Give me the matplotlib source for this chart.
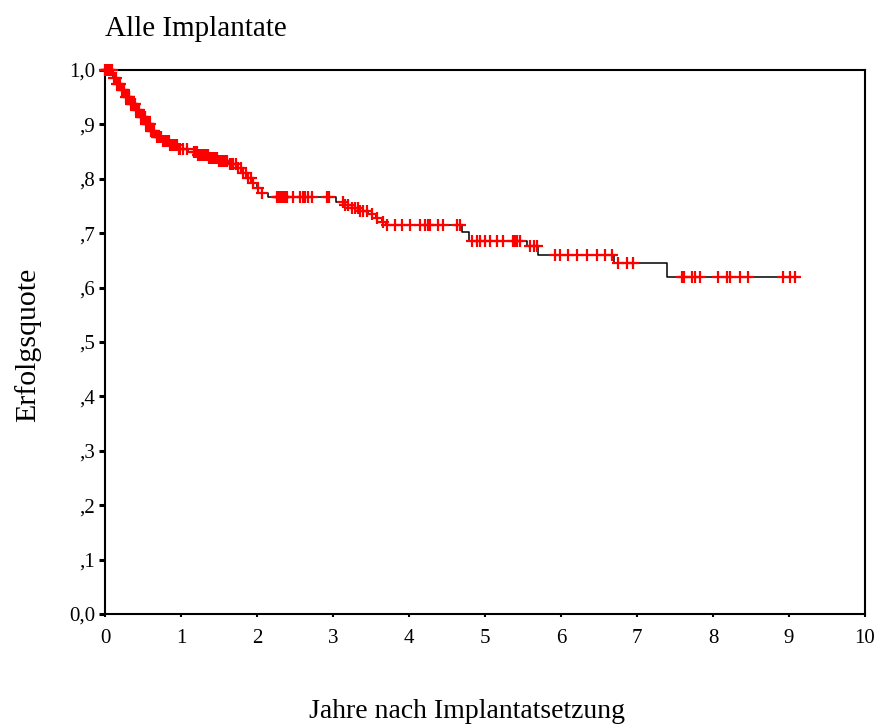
import matplotlib
matplotlib.use("Agg")
import matplotlib.pyplot as plt
import numpy as np

# Kaplan-Meier estimate: times (years) at which the survival level drops, and the level after each drop
event_years = [0.105, 0.158, 0.211, 0.263, 0.329, 0.395, 0.461, 0.526, 0.592, 0.671,
               0.75, 0.855, 0.961, 1.092, 1.224, 1.355, 1.487, 1.618, 1.724, 1.803,
               1.868, 1.934, 2.0, 2.066, 2.145, 3.04, 3.16, 3.25, 3.355, 3.46,
               3.565, 3.645, 3.70, 4.70, 4.79, 5.55, 5.70, 6.70, 7.39]
survival = [0.985, 0.974, 0.963, 0.950, 0.9375, 0.926, 0.914, 0.901, 0.888, 0.877,
            0.869, 0.862, 0.855, 0.849, 0.844, 0.838, 0.833, 0.827, 0.820, 0.811,
            0.801, 0.792, 0.783, 0.774, 0.767, 0.757, 0.752, 0.746, 0.741, 0.735,
            0.728, 0.721, 0.715, 0.702, 0.686, 0.676, 0.660, 0.645, 0.620]
last_followup = 9.08

# censored observations (years)
censored_years = [0.00, 0.01, 0.02, 0.03, 0.05, 0.07, 0.09, 0.12, 0.14, 0.16, 0.18, 0.20,
                  0.22, 0.24, 0.25, 0.27, 0.29, 0.31, 0.32, 0.34, 0.36, 0.37, 0.39, 0.41,
                  0.43, 0.45, 0.47, 0.49, 0.50, 0.52, 0.54, 0.56, 0.57, 0.59, 0.61, 0.63,
                  0.65, 0.68, 0.70, 0.71, 0.73, 0.74, 0.76, 0.78, 0.80, 0.82, 0.84, 0.86,
                  0.88, 0.90, 0.92, 0.95, 0.97, 0.99, 1.03, 1.08,
                  1.17, 1.19, 1.21, 1.23, 1.24, 1.26, 1.29, 1.31, 1.33, 1.35, 1.37, 1.39,
                  1.42, 1.45, 1.47, 1.50, 1.52, 1.53, 1.55, 1.57, 1.58, 1.61, 1.64, 1.66,
                  1.68, 1.72, 1.75, 1.79, 1.82, 1.85, 1.88, 1.92, 1.95, 2.01, 2.07,
                  2.26, 2.27, 2.29, 2.30, 2.32, 2.34, 2.36, 2.37, 2.39, 2.47, 2.57, 2.61,
                  2.63, 2.67, 2.72, 2.92, 2.95,
                  3.13, 3.16, 3.20, 3.25, 3.29, 3.33, 3.36, 3.39, 3.45, 3.51, 3.58, 3.66,
                  3.71, 3.82, 3.91, 4.01, 4.14, 4.21, 4.25, 4.28, 4.38, 4.45, 4.63, 4.67,
                  4.83, 4.89, 4.93, 5.00, 5.07, 5.16, 5.24, 5.37, 5.39, 5.42, 5.46,
                  5.59, 5.64, 5.68, 5.92, 5.99, 6.09, 6.21, 6.34, 6.47, 6.58, 6.67,
                  6.75, 6.87, 6.95, 7.59, 7.62, 7.72, 7.76, 7.83, 8.07, 8.18, 8.22,
                  8.36, 8.46, 8.92, 9.01, 9.08]

x_ticks = list(range(0, 11))
y_ticks = [0.0, 0.1, 0.2, 0.3, 0.4, 0.5, 0.6, 0.7, 0.8, 0.9, 1.0]
y_tick_labels = ["0,0", ",1", ",2", ",3", ",4", ",5", ",6", ",7", ",8", ",9", "1,0"]

plt.rcParams["font.family"] = ["Liberation Serif", "DejaVu Serif"]

fig = plt.figure(figsize=(8.77, 7.24), dpi=100)
ax = fig.add_axes([105 / 877, 1 - 614 / 724, 760 / 877, 544 / 724])

step_t = np.array([0.0] + event_years + [last_followup])
step_s = np.array([1.0] + survival + [survival[-1]])
ax.step(step_t, step_s, where="post", color="black", lw=1.1, zorder=2)

# censor marks sit on the curve at their follow-up time
cens_t = np.array(censored_years)
idx = np.searchsorted(step_t, cens_t, side="right") - 1
cens_s = step_s[idx]
ax.plot(cens_t, cens_s, linestyle="none", marker="+", color="red",
        markersize=9, markeredgewidth=1.6, zorder=3, clip_on=False)

ax.set_xlim(0, 10)
ax.set_ylim(0, 1.0)
ax.set_xticks(x_ticks)
ax.set_xticklabels([str(v) for v in x_ticks])
ax.set_yticks(y_ticks)
ax.set_yticklabels(y_tick_labels)

for sp in ax.spines.values():
    sp.set_linewidth(1.5)
ax.tick_params(axis="y", direction="out", length=4, width=2.2, labelsize=15, pad=3)
ax.tick_params(axis="x", direction="out", length=2.5, width=1.5, labelsize=15, pad=8)

fig.text(467 / 877, 1 - 712 / 724, "Jahre nach Implantatsetzung", fontsize=20,
         ha="center", va="center")
fig.text(28 / 877, 1 - 345 / 724, "Erfolgsquote", fontsize=21.5,
         ha="center", va="center", rotation=90)
fig.text(105 / 877, 1 - 29 / 724, "Alle Implantate", fontsize=21,
         ha="left", va="center")

fig.savefig("out.png", dpi=100)
